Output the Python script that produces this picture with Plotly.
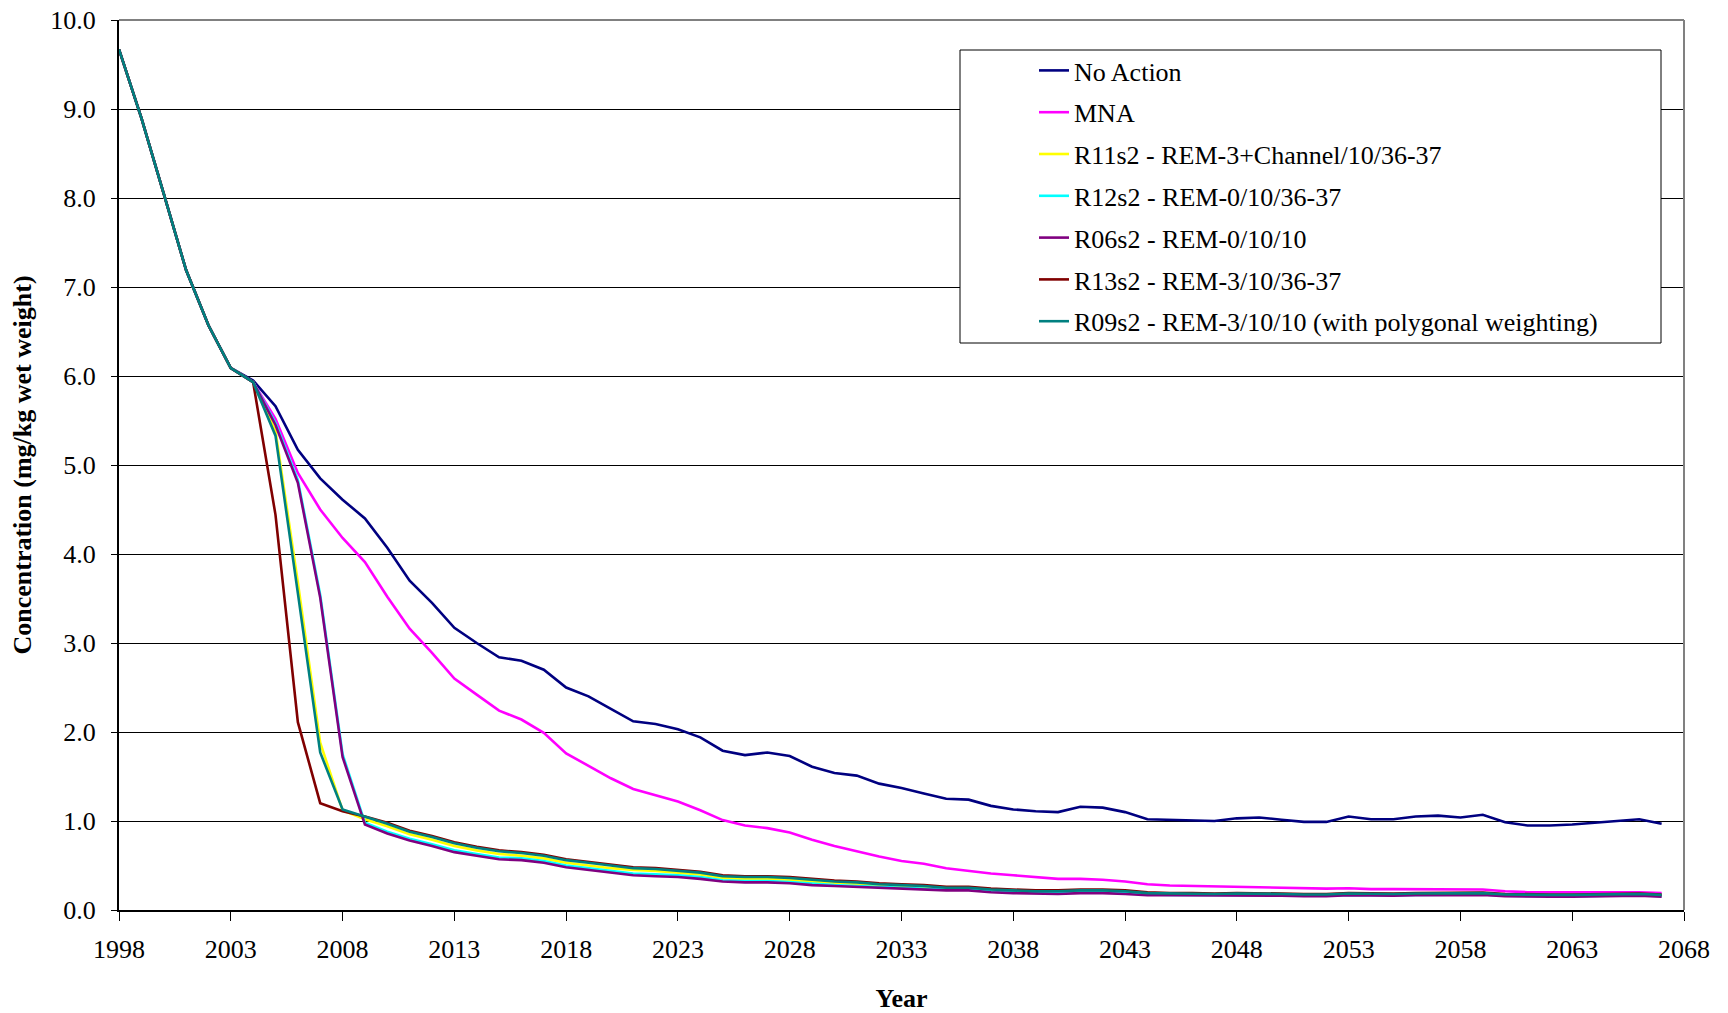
import plotly.graph_objects as go

years = list(range(1998, 2068))

no_action = [9.67, 8.90, 8.05, 7.19, 6.57, 6.09, 5.95,
             5.66, 5.17, 4.85, 4.61, 4.40, 4.07, 3.70, 3.45, 3.17, 3.00, 2.84, 2.80, 2.70, 2.50, 2.40,
             2.26, 2.12, 2.09, 2.03, 1.94, 1.79, 1.74, 1.77, 1.73, 1.61,
             1.54, 1.51, 1.42, 1.37, 1.31, 1.25, 1.24, 1.17, 1.13, 1.11,
             1.10, 1.16, 1.15, 1.10, 1.02, 1.015, 1.01, 1.00, 1.03, 1.04,
             1.015, 0.99, 0.99, 1.05, 1.02, 1.02, 1.05, 1.06, 1.04, 1.07,
             0.985, 0.95, 0.95, 0.96, 0.98, 1.00, 1.02, 0.97]

mna = [9.67, 8.90, 8.05, 7.19, 6.57, 6.09, 5.93,
       5.52, 4.91, 4.50, 4.18, 3.91, 3.52, 3.16, 2.89, 2.60, 2.42, 2.24, 2.14, 1.99, 1.76, 1.62,
       1.48, 1.36, 1.29, 1.22, 1.12, 1.01, 0.95, 0.92, 0.87, 0.79,
       0.72, 0.66, 0.60, 0.55, 0.52, 0.47, 0.44, 0.41, 0.39, 0.37,
       0.35, 0.35, 0.34, 0.32, 0.29, 0.275, 0.27, 0.265, 0.265, 0.26,
       0.255, 0.245, 0.24, 0.245, 0.235, 0.235, 0.235, 0.23, 0.23, 0.23,
       0.21, 0.20, 0.20, 0.20, 0.20, 0.20, 0.20, 0.19]

r11s2 = [9.67, 8.90, 8.05, 7.19, 6.57, 6.09, 5.93,
         5.38, 3.68, 1.88, 1.12, 1.02, 0.94, 0.85, 0.79, 0.72, 0.67, 0.63, 0.61, 0.58, 0.53, 0.50,
         0.47, 0.45, 0.44, 0.42, 0.40, 0.36, 0.35, 0.35, 0.34, 0.32,
         0.305, 0.295, 0.28, 0.27, 0.26, 0.24, 0.24, 0.22, 0.21, 0.205,
         0.20, 0.21, 0.21, 0.20, 0.185, 0.18, 0.18, 0.175, 0.18, 0.18,
         0.175, 0.17, 0.17, 0.18, 0.175, 0.175, 0.18, 0.18, 0.18, 0.185,
         0.17, 0.165, 0.165, 0.165, 0.17, 0.17, 0.175, 0.165]

r12s2 = [9.67, 8.90, 8.05, 7.19, 6.57, 6.09, 5.93,
         5.47, 4.83, 3.54, 1.75, 0.98, 0.88, 0.80, 0.74, 0.67, 0.63, 0.59, 0.58, 0.55, 0.50, 0.47,
         0.44, 0.41, 0.40, 0.39, 0.37, 0.335, 0.325, 0.325, 0.315, 0.295,
         0.28, 0.27, 0.26, 0.25, 0.245, 0.23, 0.23, 0.21, 0.20, 0.195,
         0.19, 0.20, 0.20, 0.19, 0.175, 0.17, 0.17, 0.165, 0.17, 0.17,
         0.165, 0.16, 0.16, 0.17, 0.165, 0.165, 0.17, 0.17, 0.17, 0.175,
         0.16, 0.155, 0.155, 0.155, 0.16, 0.16, 0.165, 0.155]

r06s2 = [9.67, 8.90, 8.05, 7.19, 6.57, 6.09, 5.93,
         5.45, 4.80, 3.51, 1.72, 0.96, 0.86, 0.78, 0.72, 0.65, 0.61, 0.57, 0.56, 0.53, 0.48, 0.45,
         0.42, 0.39, 0.38, 0.37, 0.35, 0.32, 0.31, 0.31, 0.30, 0.28,
         0.27, 0.26, 0.25, 0.24, 0.235, 0.22, 0.22, 0.20, 0.19, 0.185,
         0.18, 0.19, 0.19, 0.18, 0.165, 0.165, 0.165, 0.16, 0.165, 0.165,
         0.16, 0.155, 0.155, 0.165, 0.16, 0.16, 0.165, 0.165, 0.165, 0.17,
         0.155, 0.15, 0.15, 0.15, 0.155, 0.155, 0.16, 0.15]

r13s2 = [9.67, 8.90, 8.05, 7.19, 6.57, 6.09, 5.93,
         4.44, 2.11, 1.20, 1.11, 1.05, 0.98, 0.89, 0.83, 0.76, 0.71, 0.67, 0.65, 0.62, 0.57, 0.54,
         0.51, 0.48, 0.47, 0.45, 0.43, 0.39, 0.38, 0.38, 0.37, 0.35,
         0.33, 0.32, 0.30, 0.29, 0.28, 0.26, 0.26, 0.24, 0.23, 0.22,
         0.22, 0.23, 0.23, 0.22, 0.20, 0.19, 0.19, 0.185, 0.19, 0.19,
         0.185, 0.18, 0.18, 0.19, 0.185, 0.185, 0.19, 0.19, 0.19, 0.195,
         0.18, 0.175, 0.175, 0.175, 0.18, 0.18, 0.185, 0.175]

r09s2 = [9.67, 8.90, 8.05, 7.19, 6.57, 6.09, 5.93,
         5.33, 3.56, 1.77, 1.13, 1.05, 0.97, 0.88, 0.82, 0.75, 0.70, 0.66, 0.64, 0.61, 0.56, 0.53,
         0.50, 0.47, 0.46, 0.44, 0.42, 0.38, 0.37, 0.37, 0.36, 0.34,
         0.32, 0.31, 0.29, 0.28, 0.27, 0.25, 0.25, 0.23, 0.22, 0.21,
         0.21, 0.22, 0.22, 0.21, 0.19, 0.185, 0.185, 0.18, 0.185, 0.185,
         0.18, 0.175, 0.175, 0.185, 0.18, 0.18, 0.185, 0.185, 0.185, 0.19,
         0.175, 0.17, 0.17, 0.17, 0.175, 0.175, 0.18, 0.17]

series_names = ["No Action", "MNA", "R11s2 - REM-3+Channel/10/36-37", "R12s2 - REM-0/10/36-37",
                "R06s2 - REM-0/10/10", "R13s2 - REM-3/10/36-37",
                "R09s2 - REM-3/10/10 (with polygonal weighting)"]
series_values = [no_action, mna, r11s2, r12s2, r06s2, r13s2, r09s2]
series_colors = ["#000080", "#FF00FF", "#FFFF00", "#00FFFF", "#800080", "#800000", "#008080"]

x_ticks = [1998, 2003, 2008, 2013, 2018, 2023, 2028, 2033, 2038, 2043, 2048, 2053, 2058, 2063, 2068]
y_ticks = [0, 1, 2, 3, 4, 5, 6, 7, 8, 9, 10]

FONT = "Liberation Serif, Times New Roman, serif"
FS = 26

fig = go.Figure()
for i, (name, vals, col) in enumerate(zip(series_names, series_values, series_colors)):
    assert len(vals) == len(years), name
    fig.add_trace(go.Scatter(x=years, y=vals, mode="lines", name=name,
                             legendgroup=f"g{i}",
                             line=dict(color=col, width=2.6)))

# page has an 8px body margin: figure coords = page coords - 8
OFF = 8
W, H = 1720, 1005
ml, mr, mt, mb = 111, 44, 12, 103
pw, ph = W - ml - mr, H - mt - mb


def px_x(page_px):
    return (page_px - OFF - ml) / pw


def px_y(page_py):
    return (H - mb - (page_py - OFF)) / ph


fig.update_layout(
    width=W, height=H,
    margin=dict(l=ml, r=mr, t=mt, b=mb, autoexpand=False),
    paper_bgcolor="white", plot_bgcolor="white",
    font=dict(family=FONT, size=FS, color="black"),
    showlegend=True,
    legend=dict(x=px_x(1034), y=px_y(47), xanchor="left", yanchor="top",
                bgcolor="rgba(0,0,0,0)", borderwidth=0,
                font=dict(family=FONT, size=FS, color="black"),
                tracegroupgap=5, itemwidth=30),
    shapes=[dict(type="rect", xref="paper", yref="paper",
                 x0=px_x(960), x1=px_x(1661), y0=px_y(343), y1=px_y(50),
                 line=dict(color="black", width=1), fillcolor="white", layer="above")],
    xaxis=dict(range=[1998, 2068], tickvals=x_ticks, ticktext=[str(t) for t in x_ticks],
               showgrid=False, zeroline=False, showline=True, linecolor="black", linewidth=2,
               ticks="outside", ticklen=9, tickwidth=1, tickcolor="black",
               ticklabelstandoff=6, ticklabeloverflow="allow",
               title=dict(text="<b>Year</b>", font=dict(family=FONT, size=FS), standoff=26)),
    yaxis=dict(range=[0, 10], tickvals=y_ticks, tickformat=".1f",
               showgrid=True, gridcolor="black", gridwidth=1, zeroline=False,
               showline=True, linecolor="black", linewidth=2,
               ticks="outside", ticklen=6, tickwidth=1, tickcolor="black",
               ticklabelstandoff=10, ticklabeloverflow="allow",
               title=dict(text="<b>Concentration (mg/kg wet weight)</b>",
                          font=dict(family=FONT, size=FS), standoff=23)),
)

# gray plot-area border on top and right (Excel style)
fig.add_shape(type="line", xref="paper", yref="paper", x0=0, x1=1, y0=1, y1=1,
              line=dict(color="#808080", width=2), layer="above")
fig.add_shape(type="line", xref="paper", yref="paper", x0=1, x1=1, y0=0, y1=1,
              line=dict(color="#808080", width=2), layer="above")

fig.write_html("out.html")
